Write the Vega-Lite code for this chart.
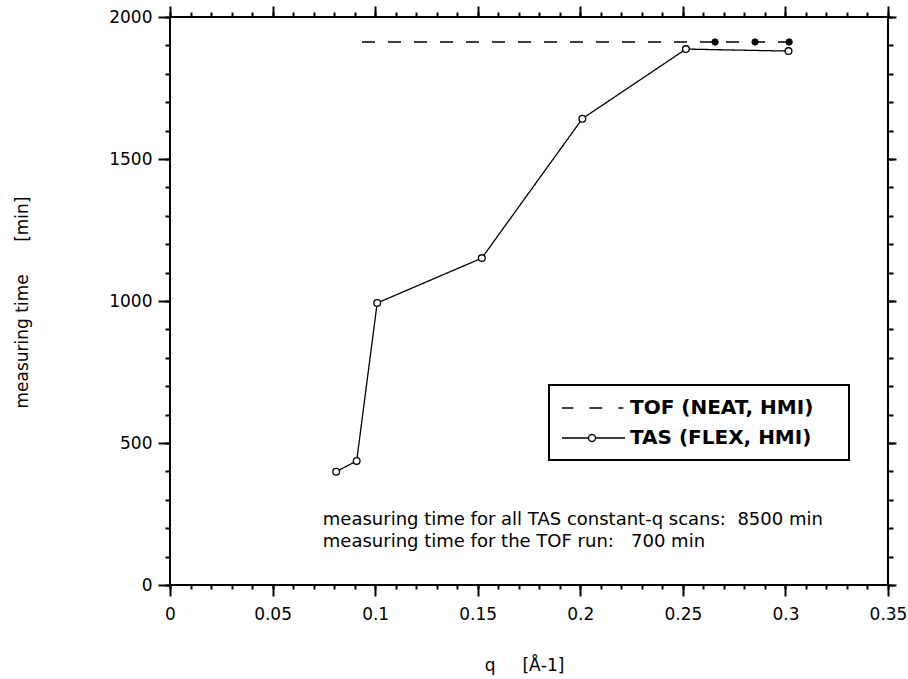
{
  "$schema": "https://vega.github.io/schema/vega-lite/v6.json",
  "width": 718,
  "height": 568,
  "autosize": {"type": "none"},
  "padding": {"left": 170, "top": 17, "right": 20, "bottom": 94},
  "background": "white",
  "config": {
    "view": {"stroke": "black", "strokeWidth": 2},
    "axis": {
      "grid": false, "domain": false, "tickColor": "black", "tickWidth": 2,
      "labelFont": "DejaVu Sans", "labelFontSize": 17, "labelColor": "black",
      "titleFont": "DejaVu Sans", "titleFontSize": 17, "titleFontWeight": "normal", "titleColor": "black",
      "labelOverlap": false, "labelFlush": false
    }
  },
  "datasets": {
    "series": [
      {"series": "TOF (NEAT, HMI)", "q": 0.0936, "t": 1912, "marker": false},
      {"series": "TOF (NEAT, HMI)", "q": 0.2657, "t": 1912, "marker": true},
      {"series": "TOF (NEAT, HMI)", "q": 0.2852, "t": 1912, "marker": true},
      {"series": "TOF (NEAT, HMI)", "q": 0.3018, "t": 1912, "marker": true},
      {"series": "TAS (FLEX, HMI)", "q": 0.081, "t": 399, "marker": true},
      {"series": "TAS (FLEX, HMI)", "q": 0.091, "t": 437, "marker": true},
      {"series": "TAS (FLEX, HMI)", "q": 0.101, "t": 993, "marker": true},
      {"series": "TAS (FLEX, HMI)", "q": 0.152, "t": 1151, "marker": true},
      {"series": "TAS (FLEX, HMI)", "q": 0.201, "t": 1642, "marker": true},
      {"series": "TAS (FLEX, HMI)", "q": 0.2515, "t": 1887, "marker": true},
      {"series": "TAS (FLEX, HMI)", "q": 0.3015, "t": 1880, "marker": true}
    ],
    "notes": [
      {"q": 0.0745, "t": 211, "note": "measuring time for all TAS constant-q scans:\u00a0\u00a08500 min"},
      {"q": 0.0745, "t": 134, "note": "measuring time for the TOF run:\u00a0\u00a0\u00a0700 min"}
    ]
  },
  "layer": [
    {
      "data": {"name": "series"},
      "mark": {"type": "line", "strokeWidth": 1.3},
      "encoding": {
        "x": {
          "field": "q", "type": "quantitative",
          "scale": {"domain": [0, 0.35], "nice": false, "zero": false},
          "axis": {
            "orient": "bottom", "values": [0, 0.05, 0.1, 0.15, 0.2, 0.25, 0.3, 0.35], "format": "~g",
            "tickSize": 11, "labelPadding": 10,
            "title": "q\u00a0\u00a0\u00a0\u00a0\u00a0[Å-1]", "titleX": 354, "titleY": 85,
            "titleAlign": "center", "titleBaseline": "alphabetic"
          }
        },
        "y": {
          "field": "t", "type": "quantitative",
          "scale": {"domain": [0, 2000], "nice": false},
          "axis": {
            "orient": "left", "values": [0, 500, 1000, 1500, 2000], "format": "d",
            "tickSize": 12, "labelPadding": 6,
            "title": "measuring time\u00a0\u00a0\u00a0\u00a0\u00a0\u00a0[min]", "titleX": -148, "titleY": 285,
            "titleAngle": -90, "titleAlign": "center", "titleBaseline": "middle"
          }
        },
        "color": {
          "field": "series", "type": "nominal",
          "scale": {"domain": ["TOF (NEAT, HMI)", "TAS (FLEX, HMI)"], "range": ["black", "black"]},
          "legend": {
            "title": "\u00a0", "titleOrient": "right", "titlePadding": 24, "titleFontSize": 20,
            "orient": "none", "legendX": 379, "legendY": 368,
            "strokeColor": "black", "fillColor": "white", "padding": 12,
            "symbolSize": 400, "symbolType": "stroke",
            "labelFont": "DejaVu Sans", "labelFontSize": 20, "labelFontWeight": "bold", "labelColor": "black",
            "labelOffset": 47, "rowPadding": 9, "labelLimit": 400,
            "encode": {
              "legend": {"update": {"strokeWidth": {"value": 2}}},
              "symbols": {
                "update": {
                  "shape": {"signal": "datum.value === 'TOF (NEAT, HMI)' ? 'M-1,0L0.13,0M1.74,0L3.03,0M4.64,0L5.14,0' : 'M-1,0L1.65,0M2.35,0L5.3,0M1.65,0A0.35,0.35 0 1 1 2.35,0A0.35,0.35 0 1 1 1.65,0Z'"},
                  "fill": {"value": "transparent"},
                  "stroke": {"value": "black"},
                  "strokeWidth": {"value": 1.3}
                }
              }
            }
          }
        },
        "strokeDash": {
          "field": "series", "type": "nominal",
          "scale": {"domain": ["TOF (NEAT, HMI)", "TAS (FLEX, HMI)"], "range": [[13, 13], [1, 0]]},
          "legend": null
        }
      }
    },
    {
      "data": {"name": "series"},
      "transform": [{"filter": "datum.series === 'TAS (FLEX, HMI)'"}],
      "mark": {"type": "point", "filled": true, "fill": "white", "stroke": "black", "strokeWidth": 1.3, "size": 45, "opacity": 1},
      "encoding": {
        "x": {
          "field": "q", "type": "quantitative",
          "scale": {"domain": [0, 0.35], "nice": false, "zero": false},
          "axis": {
            "orient": "bottom",
            "values": [0, 0.01, 0.02, 0.03, 0.04, 0.05, 0.06, 0.07, 0.08, 0.09, 0.1, 0.11, 0.12, 0.13, 0.14, 0.15, 0.16, 0.17, 0.18, 0.19, 0.2, 0.21, 0.22, 0.23, 0.24, 0.25, 0.26, 0.27, 0.28, 0.29, 0.3, 0.31, 0.32, 0.33, 0.34, 0.35],
            "tickSize": 4, "labels": false, "title": null
          }
        },
        "y": {
          "field": "t", "type": "quantitative",
          "scale": {"domain": [0, 2000], "nice": false},
          "axis": {
            "orient": "left",
            "values": [0, 100, 200, 300, 400, 500, 600, 700, 800, 900, 1000, 1100, 1200, 1300, 1400, 1500, 1600, 1700, 1800, 1900, 2000],
            "tickSize": 5, "labels": false, "title": null
          }
        }
      }
    },
    {
      "data": {"name": "series"},
      "transform": [{"filter": "datum.series === 'TOF (NEAT, HMI)' && datum.marker"}],
      "mark": {"type": "point", "filled": true, "fill": "black", "stroke": "black", "strokeWidth": 1, "size": 40, "opacity": 1},
      "encoding": {
        "x": {
          "field": "q", "type": "quantitative",
          "scale": {"domain": [0, 0.35], "nice": false, "zero": false},
          "axis": {
            "orient": "top", "values": [0, 0.05, 0.1, 0.15, 0.2, 0.25, 0.3, 0.35],
            "tickSize": 11, "labels": false, "title": null
          }
        },
        "y": {
          "field": "t", "type": "quantitative",
          "scale": {"domain": [0, 2000], "nice": false},
          "axis": {
            "orient": "right", "values": [0, 500, 1000, 1500, 2000],
            "tickSize": 8, "labels": false, "title": null
          }
        }
      }
    },
    {
      "data": {"name": "notes"},
      "mark": {"type": "text", "align": "left", "baseline": "alphabetic", "font": "DejaVu Sans", "fontSize": 18, "color": "black"},
      "encoding": {
        "x": {
          "field": "q", "type": "quantitative",
          "scale": {"domain": [0, 0.35], "nice": false, "zero": false},
          "axis": {
            "orient": "top",
            "values": [0, 0.01, 0.02, 0.03, 0.04, 0.05, 0.06, 0.07, 0.08, 0.09, 0.1, 0.11, 0.12, 0.13, 0.14, 0.15, 0.16, 0.17, 0.18, 0.19, 0.2, 0.21, 0.22, 0.23, 0.24, 0.25, 0.26, 0.27, 0.28, 0.29, 0.3, 0.31, 0.32, 0.33, 0.34, 0.35],
            "tickSize": 5, "labels": false, "title": null
          }
        },
        "y": {
          "field": "t", "type": "quantitative",
          "scale": {"domain": [0, 2000], "nice": false},
          "axis": {
            "orient": "right",
            "values": [0, 100, 200, 300, 400, 500, 600, 700, 800, 900, 1000, 1100, 1200, 1300, 1400, 1500, 1600, 1700, 1800, 1900, 2000],
            "tickSize": 5, "labels": false, "title": null
          }
        },
        "text": {"field": "note", "type": "nominal"}
      }
    }
  ],
  "resolve": {"axis": {"x": "independent", "y": "independent"}}
}
